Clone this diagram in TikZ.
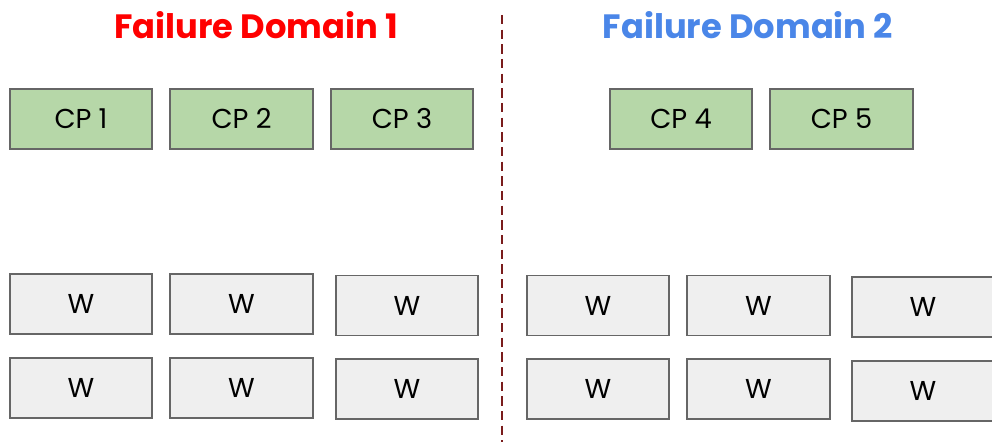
\documentclass[tikz,border=0pt]{standalone}
\usepackage{fontspec}
\setmainfont{Poppins}
\definecolor{cpgreen}{HTML}{B6D7A8}
\definecolor{wgray}{HTML}{EFEFEF}
\definecolor{edgegray}{HTML}{666666}
\definecolor{fdred}{HTML}{FF0000}
\definecolor{fdblue}{HTML}{4A86E8}
\definecolor{divider}{HTML}{7A1C1C}
\begin{document}
\begin{tikzpicture}[x=0.75pt,y=-0.75pt,
  box/.style={draw=edgegray, line width=1.3pt, minimum width=107pt, minimum height=45pt,
    inner sep=0pt, font=\fontsize{20.5}{24}\selectfont},
  cpbox/.style={box, fill=cpgreen},
  wbox/.style={box, fill=wgray},
  title/.style={font=\fontsize{25.3}{28}\selectfont\bfseries, inner sep=0pt}]
\useasboundingbox (0,0) rectangle (992,442);
% domain titles
\node[title, text=fdred]  (fd1) at (256,25) {Failure Domain 1};
\node[title, text=fdblue] (fd2) at (748,25) {Failure Domain 2};
% dashed separator between the two domains
\coordinate (sepTop) at (501.5,15);
\coordinate (sepBot) at (501.5,442);
\draw[divider, line width=1.5pt, dash pattern=on 7pt off 4pt] (sepTop) -- (sepBot);
% control plane nodes
\node[cpbox] (cp1) at (81,119)    {CP 1};
\node[cpbox] (cp2) at (241.5,119) {CP 2};
\node[cpbox] (cp3) at (402,119)   {CP 3};
\node[cpbox] (cp4) at (681,119)   {CP 4};
\node[cpbox] (cp5) at (841.5,119) {CP 5};
% workers, domain 1
\node[wbox] (w11) at (81,304)    {W};
\node[wbox] (w12) at (241.5,304) {W};
\node[wbox] (w13) at (407,305.5) {W};
\node[wbox] (w14) at (81,388)    {W};
\node[wbox] (w15) at (241.5,388) {W};
\node[wbox] (w16) at (407,389)   {W};
% workers, domain 2
\node[wbox] (w21) at (598,305.5)   {W};
\node[wbox] (w22) at (758.5,305.5) {W};
\node[wbox] (w23) at (923,307)     {W};
\node[wbox] (w24) at (598,389)     {W};
\node[wbox] (w25) at (758.5,389)   {W};
\node[wbox] (w26) at (923,391)     {W};
\end{tikzpicture}
\end{document}
